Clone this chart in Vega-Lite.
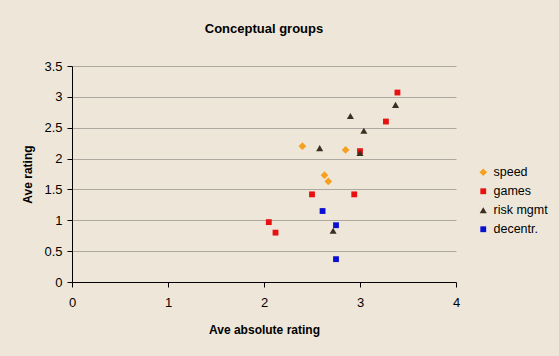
{
  "$schema": "https://vega.github.io/schema/vega-lite/v6.json",
  "autosize": {"type": "none"},
  "width": 384,
  "height": 216,
  "padding": {"left": 72, "top": 66, "right": 103, "bottom": 74},
  "background": "#EEE7D9",
  "title": {"text": "Conceptual groups", "font": "Liberation Sans", "fontSize": 13, "fontWeight": "bold", "color": "#000000", "offset": 24},
  "config": {
    "view": {"stroke": null},
    "font": "Liberation Sans"
  },
  "data": {"values": [
    {"group": "speed", "abs": 2.40, "rating": 2.20},
    {"group": "speed", "abs": 2.85, "rating": 2.14},
    {"group": "speed", "abs": 2.63, "rating": 1.73},
    {"group": "speed", "abs": 2.67, "rating": 1.63},
    {"group": "games", "abs": 3.39, "rating": 3.07},
    {"group": "games", "abs": 3.27, "rating": 2.60},
    {"group": "games", "abs": 3.00, "rating": 2.12},
    {"group": "games", "abs": 2.50, "rating": 1.42},
    {"group": "games", "abs": 2.94, "rating": 1.42},
    {"group": "games", "abs": 2.05, "rating": 0.97},
    {"group": "games", "abs": 2.12, "rating": 0.80},
    {"group": "risk mgmt", "abs": 3.37, "rating": 2.87},
    {"group": "risk mgmt", "abs": 2.90, "rating": 2.69},
    {"group": "risk mgmt", "abs": 3.04, "rating": 2.45},
    {"group": "risk mgmt", "abs": 2.58, "rating": 2.17},
    {"group": "risk mgmt", "abs": 3.00, "rating": 2.09},
    {"group": "risk mgmt", "abs": 2.72, "rating": 0.83},
    {"group": "decentr.", "abs": 2.61, "rating": 1.15},
    {"group": "decentr.", "abs": 2.75, "rating": 0.92},
    {"group": "decentr.", "abs": 2.75, "rating": 0.37}
  ]},
  "mark": {"type": "point", "filled": true, "opacity": 1},
  "encoding": {
    "x": {"field": "abs", "type": "quantitative",
      "scale": {"domain": [0, 4], "nice": false, "zero": true},
      "axis": {"values": [0, 1, 2, 3, 4], "grid": false, "title": "Ave absolute rating",
        "titleFontSize": 12, "titleFontWeight": "bold", "titleColor": "#000", "titlePadding": 15,
        "labelFontSize": 13, "labelColor": "#000", "labelPadding": 9, "labelFontWeight": "normal",
        "domainColor": "#000", "tickColor": "#000", "tickSize": 5, "labelFlush": false}},
    "y": {"field": "rating", "type": "quantitative",
      "scale": {"domain": [0, 3.5], "nice": false},
      "axis": {"values": [0, 0.5, 1, 1.5, 2, 2.5, 3, 3.5], "labelExpr": "datum.value + ''",
        "grid": true, "gridColor": "#ADA8A0", "gridWidth": 1, "title": "Ave rating",
        "titleFontSize": 12, "titleFontWeight": "bold", "titleColor": "#000", "titlePadding": 9,
        "labelFontSize": 13, "labelColor": "#000", "labelPadding": 5,
        "domainColor": "#000", "tickColor": "#000", "tickSize": 5, "labelFlush": false}},
    "color": {"field": "group", "type": "nominal",
      "scale": {"domain": ["speed", "games", "risk mgmt", "decentr."], "range": ["#F5A020", "#E81010", "#3A3020", "#0A10D0"]},
      "legend": {"title": null, "orient": "none", "legendX": 405, "legendY": 100, "labelFontSize": 12.5, "labelColor": "#000",
        "symbolSize": 28, "rowPadding": 6, "labelOffset": 4}},
    "shape": {"field": "group", "type": "nominal",
      "scale": {"domain": ["speed", "games", "risk mgmt", "decentr."], "range": ["diamond", "square", "triangle-up", "square"]},
      "legend": null},
    "size": {"field": "group", "type": "nominal",
      "scale": {"type": "ordinal", "domain": ["speed", "games", "risk mgmt", "decentr."], "range": [60, 34, 50, 34]},
      "legend": null}
  }
}
